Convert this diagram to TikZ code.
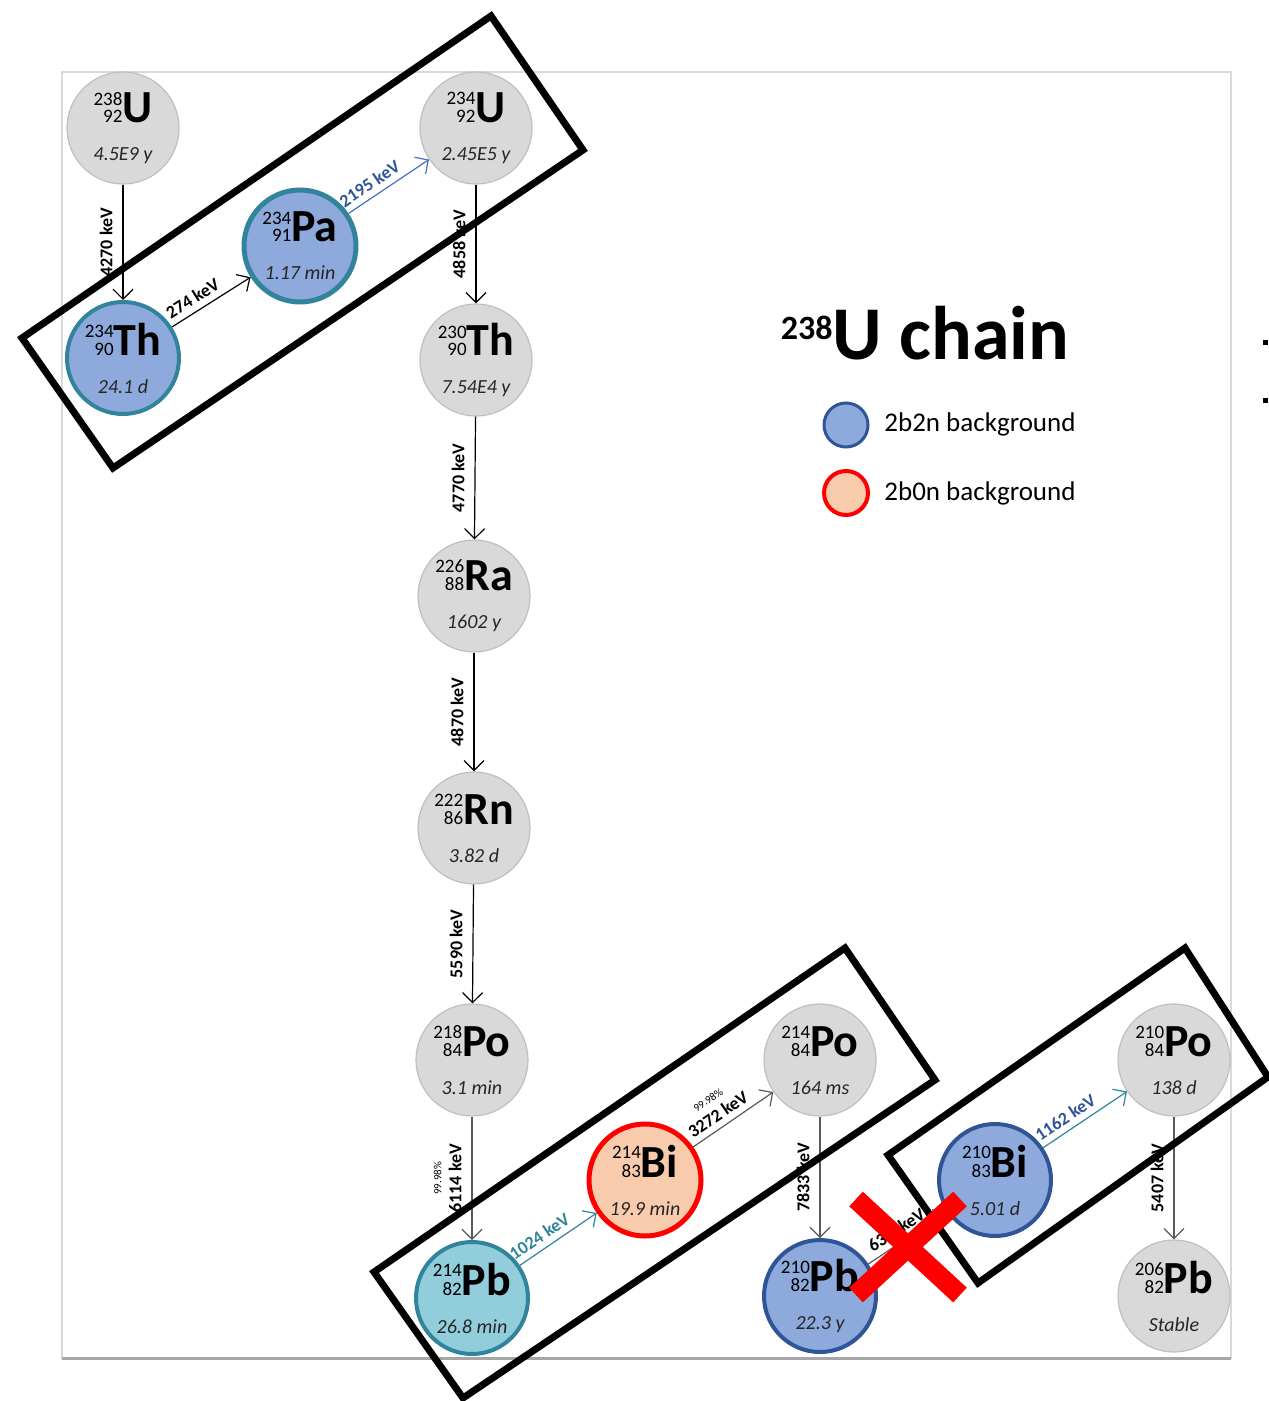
\documentclass[tikz,border=0pt]{standalone}
\usepackage{fontspec}
\setmainfont{Carlito}
\usetikzlibrary{arrows.meta}
\definecolor{NucGray}{HTML}{D9D9D9}
\definecolor{NucGrayLine}{HTML}{BFBFBF}
\definecolor{NucBlue}{HTML}{8EA9DB}
\definecolor{NucNavy}{HTML}{2F5597}
\definecolor{NucTeal}{HTML}{31849B}
\definecolor{NucCyan}{HTML}{92CDDC}
\definecolor{NucPeach}{HTML}{F8CBAD}
\definecolor{ArrBlue}{HTML}{4472C4}
\definecolor{HalfLife}{HTML}{262626}
\newcommand{\iso}[3]{{\fontsize{9.5}{8.5}\selectfont\begin{tabular}[b]{@{}r@{}}#1\\#2\end{tabular}}{\fontsize{23}{23}\selectfont\bfseries #3}}
\newcommand{\hl}[1]{{\color{HalfLife}\itshape #1}}
\tikzstyle{Nuc}=[circle, minimum size=56pt, inner sep=0pt, align=center, font=\fontsize{10}{19}\selectfont]
\tikzstyle{GrayNuc}=[Nuc, fill=NucGray, draw=NucGrayLine, line width=0.6pt]
\tikzstyle{BlueNuc}=[Nuc, fill=NucBlue, draw=NucNavy, line width=2pt]
\tikzstyle{TealNuc}=[BlueNuc, draw=NucTeal]
\tikzstyle{CyanNuc}=[TealNuc, fill=NucCyan]
\tikzstyle{RedNuc}=[Nuc, fill=NucPeach, draw=red, line width=2.5pt]
\tikzstyle{Decay}=[-{Straight Barb[length=5pt,width=10pt]}, line width=0.6pt]
\tikzstyle{GrayDecay}=[Decay, draw=black!65]
\tikzstyle{Lbl}=[font=\fontsize{9}{9}\selectfont\bfseries, inner sep=1.5pt, align=center]
\tikzstyle{VLbl}=[Lbl, midway, rotate=90, anchor=south, inner sep=5pt]
\tikzstyle{SLbl}=[Lbl, sloped, above, pos=0.35, inner sep=3pt]
\tikzstyle{BlackBox}=[line width=3.5pt, line join=miter]
\newcommand{\pct}{{\fontsize{5.5}{6}\selectfont\mdseries 99.98\%}}

\begin{document}
\begin{tikzpicture}[x=0.5pt, y=-0.5pt]
\useasboundingbox (0,0) rectangle (1268,1401);
% frame
\draw[NucGray, line width=1pt] (62,72) rectangle (1231,1358);
\draw[black!35, line width=1.5pt] (62,1358) -- (1231,1358);
\fill (1263,340) rectangle (1268,345);
\fill (1263,398) rectangle (1268,403);

% nuclides
\node[GrayNuc](U238) at (123,128) {\iso{238}{92}{U}\\\hl{4.5E9 y}};
\node[TealNuc](Th234) at (123,358) {\iso{234}{90}{Th}\\\hl{24.1 d}};
\node[TealNuc, line width=2.5pt](Pa234) at (300,246) {\iso{234}{91}{Pa}\\\hl{1.17 min}};
\node[GrayNuc](U234) at (476,128) {\iso{234}{92}{U}\\\hl{2.45E5 y}};
\node[GrayNuc](Th230) at (476,360) {\iso{230}{90}{Th}\\\hl{7.54E4 y}};
\node[GrayNuc](Ra226) at (474,596) {\iso{226}{88}{Ra}\\\hl{1602 y}};
\node[GrayNuc](Rn222) at (474,828) {\iso{222}{86}{Rn}\\\hl{3.82 d}};
\node[GrayNuc](Po218) at (472,1060) {\iso{218}{84}{Po}\\\hl{3.1 min}};
\node[CyanNuc](Pb214) at (472,1298) {\iso{214}{82}{Pb}\\\hl{26.8 min}};
\node[RedNuc](Bi214) at (645,1180) {\iso{214}{83}{Bi}\\\hl{19.9 min}};
\node[GrayNuc](Po214) at (820,1060) {\iso{214}{84}{Po}\\\hl{164 ms}};
\node[BlueNuc](Pb210) at (820,1296) {\iso{210}{82}{Pb}\\\hl{22.3 y}};
\node[BlueNuc](Bi210) at (995,1180) {\iso{210}{83}{Bi}\\\hl{5.01 d}};
\node[GrayNuc](Po210) at (1174,1060) {\iso{210}{84}{Po}\\\hl{138 d}};
\node[GrayNuc](Pb206) at (1174,1296) {\iso{206}{82}{Pb}\\\hl{Stable}};

% decays
\draw[Decay](U238) -- node[VLbl]{4270 keV} (Th234);
\draw[Decay](Th234) -- node[SLbl]{274 keV} (Pa234);
\draw[Decay, ArrBlue](Pa234) -- node[SLbl, text=NucNavy]{2195 keV} (U234);
\draw[Decay](U234) -- node[VLbl]{4858 keV} (Th230);
\draw[Decay](Th230) -- node[VLbl]{4770 keV} (Ra226);
\draw[Decay](Ra226) -- node[VLbl]{4870 keV} (Rn222);
\draw[Decay](Rn222) -- node[VLbl]{5590 keV} (Po218);
\draw[GrayDecay](Po218) -- node[VLbl, text=black]{\pct\\[1pt]6114 keV} (Pb214);
\draw[Decay, NucTeal](Pb214) -- node[SLbl, text=NucTeal]{1024 keV} (Bi214);
\draw[GrayDecay](Bi214) -- node[SLbl, text=black, pos=0.4]{\pct\\[1pt]3272 keV} (Po214);
\draw[GrayDecay](Po214) -- node[VLbl, text=black]{7833 keV} (Pb210);
\draw[GrayDecay](Pb210) -- node[SLbl, text=black, pos=0.45]{63.5 keV} (Bi210);
\draw[Decay, NucTeal](Bi210) -- node[SLbl, text=NucNavy]{1162 keV} (Po210);
\draw[GrayDecay](Po210) -- node[VLbl, text=black]{5407 keV} (Pb206);

% title and legend
\node[font=\fontsize{38}{38}\selectfont\bfseries](Title) at (925,333) {\raisebox{10pt}{\fontsize{17}{17}\selectfont 238}U chain};
\node[Nuc, minimum size=22pt, fill=NucBlue, draw=NucNavy, line width=1.5pt](Leg1) at (846,425) {};
\node[Nuc, minimum size=22pt, fill=NucPeach, draw=red, line width=2pt](Leg2) at (846,493) {};
\node[anchor=west, font=\fontsize{13.5}{14}\selectfont, inner sep=0pt](Leg1Txt) at (884,424) {2b2n background};
\node[anchor=west, font=\fontsize{13.5}{14}\selectfont, inner sep=0pt](Leg2Txt) at (884,493) {2b0n background};

% highlight boxes
\draw[BlackBox] (22,338) -- (491,16) -- (583,150) -- (113,468) -- cycle;
\draw[BlackBox] (374,1272) -- (845,948) -- (935,1080) -- (463,1398) -- cycle;
\draw[BlackBox] (888,1155) -- (1185,948) -- (1268,1077) -- (978,1283) -- cycle;

% cross
\draw[red, line width=10pt] (856,1199) -- (960,1295);
\draw[red, line width=10pt] (960,1199) -- (856,1295);
\end{tikzpicture}
\end{document}
